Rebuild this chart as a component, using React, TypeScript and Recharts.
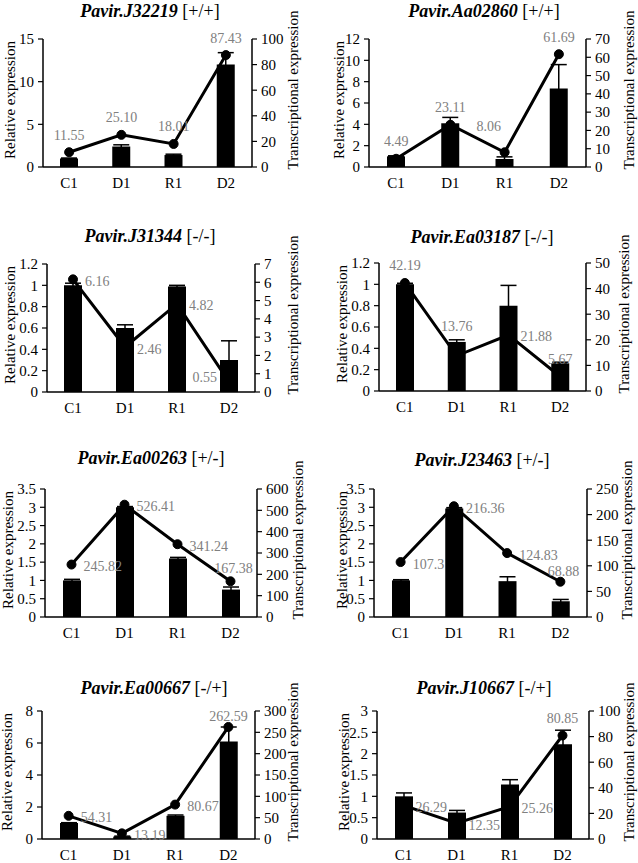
import React from 'react';
import { ComposedChart, Bar, Line, XAxis, YAxis, ErrorBar, LabelList } from 'recharts';

const FONT = '"Liberation Serif", "Times New Roman", serif';

const CATEGORIES = ['C1', 'D1', 'R1', 'D2'];

// Pavir.J32219 [+/+]
const J32219_REL = [1.0, 2.4, 1.4, 12.0];
const J32219_ERR = [0.05, 0.2, 0.1, 1.4];
const J32219_TX = [11.55, 25.1, 18.01, 87.43];
const J32219_TX_LABELS = ['11.55', '25.10', '18.01', '87.43'];
const J32219_LEFT_TICKS = [0, 5, 10, 15];
const J32219_RIGHT_TICKS = [0, 20, 40, 60, 80, 100];

// Pavir.Aa02860 [+/+]
const AA02860_REL = [1.0, 4.1, 0.75, 7.35];
const AA02860_ERR = [0.05, 0.55, 0.2, 2.25];
const AA02860_TX = [4.49, 23.11, 8.06, 61.69];
const AA02860_TX_LABELS = ['4.49', '23.11', '8.06', '61.69'];
const AA02860_LEFT_TICKS = [0, 2, 4, 6, 8, 10, 12];
const AA02860_RIGHT_TICKS = [0, 10, 20, 30, 40, 50, 60, 70];

// Pavir.J31344 [-/-]
const J31344_REL = [1.0, 0.6, 0.99, 0.3];
const J31344_ERR = [0.02, 0.03, 0.01, 0.18];
const J31344_TX = [6.16, 2.46, 4.82, 0.55];
const J31344_TX_LABELS = ['6.16', '2.46', '4.82', '0.55'];
const J31344_LEFT_TICKS = [0, 0.2, 0.4, 0.6, 0.8, 1, 1.2];
const J31344_RIGHT_TICKS = [0, 1, 2, 3, 4, 5, 6, 7];

// Pavir.Ea03187 [-/-]
const EA03187_REL = [1.0, 0.46, 0.8, 0.26];
const EA03187_ERR = [0.01, 0.02, 0.19, 0.01];
const EA03187_TX = [42.19, 13.76, 21.88, 5.67];
const EA03187_TX_LABELS = ['42.19', '13.76', '21.88', '5.67'];
const EA03187_LEFT_TICKS = [0, 0.2, 0.4, 0.6, 0.8, 1, 1.2];
const EA03187_RIGHT_TICKS = [0, 10, 20, 30, 40, 50];

// Pavir.Ea00263 [+/-]
const EA00263_REL = [1.0, 3.0, 1.6, 0.75];
const EA00263_ERR = [0.03, 0.02, 0.03, 0.07];
const EA00263_TX = [245.82, 526.41, 341.24, 167.38];
const EA00263_TX_LABELS = ['245.82', '526.41', '341.24', '167.38'];
const EA00263_LEFT_TICKS = [0, 0.5, 1, 1.5, 2, 2.5, 3, 3.5];
const EA00263_RIGHT_TICKS = [0, 100, 200, 300, 400, 500, 600];

// Pavir.J23463 [+/-]
const J23463_REL = [1.0, 2.97, 0.98, 0.43];
const J23463_ERR = [0.02, 0.02, 0.12, 0.05];
const J23463_TX = [107.3, 216.36, 124.83, 68.88];
const J23463_TX_LABELS = ['107.3', '216.36', '124.83', '68.88'];
const J23463_LEFT_TICKS = [0, 0.5, 1, 1.5, 2, 2.5, 3, 3.5];
const J23463_RIGHT_TICKS = [0, 50, 100, 150, 200, 250];

// Pavir.Ea00667 [-/+]
const EA00667_REL = [1.0, 0.15, 1.45, 6.1];
const EA00667_ERR = [0.02, 0.03, 0.05, 0.9];
const EA00667_TX = [54.31, 13.19, 80.67, 262.59];
const EA00667_TX_LABELS = ['54.31', '13.19', '80.67', '262.59'];
const EA00667_LEFT_TICKS = [0, 2, 4, 6, 8];
const EA00667_RIGHT_TICKS = [0, 50, 100, 150, 200, 250, 300];

// Pavir.J10667 [-/+]
const J10667_REL = [1.0, 0.62, 1.28, 2.22];
const J10667_ERR = [0.08, 0.05, 0.11, 0.33];
const J10667_TX = [26.29, 12.35, 25.26, 80.85];
const J10667_TX_LABELS = ['26.29', '12.35', '25.26', '80.85'];
const J10667_LEFT_TICKS = [0, 0.5, 1, 1.5, 2, 2.5, 3];
const J10667_RIGHT_TICKS = [0, 20, 40, 60, 80, 100];

type PanelDef = {
  gene: string;
  cls: string;
  rel: number[];
  err: number[];
  tx: number[];
  txLabels: string[];
  leftTicks: number[];
  rightTicks: number[];
  place: string[];
  x: number;
  plotTop: number;
  leftW: number;
  rightW: number;
  titleX: number;
  titleY: number;
  leftLabX: number;
  rightLabX: number;
};

const PLOT_H = 128;
const TOP_M = 30;
const XAXIS_H = 30;

const PANELS: PanelDef[] = [
  { gene: 'Pavir.J32219', cls: '[+/+]', rel: J32219_REL, err: J32219_ERR, tx: J32219_TX, txLabels: J32219_TX_LABELS, leftTicks: J32219_LEFT_TICKS, rightTicks: J32219_RIGHT_TICKS, place: ['top', 'top', 'top', 'top'], x: 0, plotTop: 39, leftW: 43, rightW: 67, titleX: 150, titleY: 11, leftLabX: 10, rightLabX: 293 },
  { gene: 'Pavir.Aa02860', cls: '[+/+]', rel: AA02860_REL, err: AA02860_ERR, tx: AA02860_TX, txLabels: AA02860_TX_LABELS, leftTicks: AA02860_LEFT_TICKS, rightTicks: AA02860_RIGHT_TICKS, place: ['top', 'top', 'topLeft', 'top'], x: 319, plotTop: 39, leftW: 50, rightW: 52, titleX: 165, titleY: 11, leftLabX: 20, rightLabX: 310 },
  { gene: 'Pavir.J31344', cls: '[-/-]', rel: J31344_REL, err: J31344_ERR, tx: J31344_TX, txLabels: J31344_TX_LABELS, leftTicks: J31344_LEFT_TICKS, rightTicks: J31344_RIGHT_TICKS, place: ['right', 'right', 'right', 'left'], x: 0, plotTop: 264, leftW: 47, rightW: 64, titleX: 150, titleY: 236, leftLabX: 10, rightLabX: 293 },
  { gene: 'Pavir.Ea03187', cls: '[-/-]', rel: EA03187_REL, err: EA03187_ERR, tx: EA03187_TX, txLabels: EA03187_TX_LABELS, leftTicks: EA03187_LEFT_TICKS, rightTicks: EA03187_RIGHT_TICKS, place: ['top', 'topHigh', 'right', 'top'], x: 319, plotTop: 263, leftW: 60, rightW: 52, titleX: 163, titleY: 237, leftLabX: 23, rightLabX: 305 },
  { gene: 'Pavir.Ea00263', cls: '[+/-]', rel: EA00263_REL, err: EA00263_ERR, tx: EA00263_TX, txLabels: EA00263_TX_LABELS, leftTicks: EA00263_LEFT_TICKS, rightTicks: EA00263_RIGHT_TICKS, place: ['right', 'right', 'right', 'topNear'], x: 0, plotTop: 489, leftW: 45, rightW: 62, titleX: 151, titleY: 458, leftLabX: 8, rightLabX: 298 },
  { gene: 'Pavir.J23463', cls: '[+/-]', rel: J23463_REL, err: J23463_ERR, tx: J23463_TX, txLabels: J23463_TX_LABELS, leftTicks: J23463_LEFT_TICKS, rightTicks: J23463_RIGHT_TICKS, place: ['right', 'right', 'right', 'topRight'], x: 319, plotTop: 489, leftW: 55, rightW: 51, titleX: 163, titleY: 460, leftLabX: 23, rightLabX: 308 },
  { gene: 'Pavir.Ea00667', cls: '[-/+]', rel: EA00667_REL, err: EA00667_ERR, tx: EA00667_TX, txLabels: EA00667_TX_LABELS, leftTicks: EA00667_LEFT_TICKS, rightTicks: EA00667_RIGHT_TICKS, place: ['right', 'right', 'right', 'topClose'], x: 0, plotTop: 711, leftW: 42, rightW: 64, titleX: 154, titleY: 688, leftLabX: 7, rightLabX: 293 },
  { gene: 'Pavir.J10667', cls: '[-/+]', rel: J10667_REL, err: J10667_ERR, tx: J10667_TX, txLabels: J10667_TX_LABELS, leftTicks: J10667_LEFT_TICKS, rightTicks: J10667_RIGHT_TICKS, place: ['right', 'right', 'right', 'top'], x: 319, plotTop: 711, leftW: 58, rightW: 49, titleX: 165, titleY: 688, leftLabX: 25, rightLabX: 310 },
];

function placeLabel(pos: string, x: number, y: number) {
  switch (pos) {
    case 'top':
      return { x, y: y - 17, anchor: 'middle' };
    case 'topNear':
      return { x: x + 3, y: y - 13, anchor: 'middle' };
    case 'topRight':
      return { x: x + 3, y: y - 10, anchor: 'middle' };
    case 'topHigh':
      return { x, y: y - 29, anchor: 'middle' };
    case 'topClose':
      return { x, y: y - 10, anchor: 'middle' };
    case 'topLeft':
      return { x: x - 16, y: y - 26, anchor: 'middle' };
    case 'left':
      return { x: x - 12, y: y - 4, anchor: 'end' };
    case 'right':
    default:
      return { x: x + 12, y: y + 2, anchor: 'start' };
  }
}

function Panel({ p }: { p: PanelDef }) {
  const data = CATEGORIES.map((c, i) => ({ cat: c, rel: p.rel[i], err: p.err[i], tx: p.tx[i] }));
  const tickStyle = { fontSize: 15, fill: '#000', fontFamily: FONT };
  const renderLabel = (props: any) => {
    const { x, y, value } = props;
    let idx = props.index;
    if (idx === undefined || idx === null) idx = p.tx.indexOf(value);
    const pl = placeLabel(p.place[idx] || 'top', Number(x), Number(y));
    return (
      <text
        key={`lbl-${idx}`}
        x={pl.x}
        y={pl.y}
        textAnchor={pl.anchor as any}
        dominantBaseline="central"
        fill="#808080"
        fontSize={14}
        fontFamily={FONT}
      >
        {p.txLabels[idx]}
      </text>
    );
  };
  const plotMid = p.plotTop + PLOT_H / 2;
  return (
    <>
      <div
        style={{
          position: 'absolute',
          left: p.x + p.titleX,
          top: p.titleY,
          transform: 'translate(-50%, -50%)',
          whiteSpace: 'nowrap',
          fontFamily: FONT,
          fontSize: 18,
          lineHeight: '20px',
          color: '#000',
        }}
      >
        <span style={{ fontWeight: 'bold', fontStyle: 'italic' }}>{p.gene}</span> <span>{p.cls}</span>
      </div>
      <div
        style={{
          position: 'absolute',
          left: p.x + p.leftLabX,
          top: plotMid - 3,
          transform: 'translate(-50%, -50%) rotate(-90deg)',
          whiteSpace: 'nowrap',
          fontFamily: FONT,
          fontSize: 15,
          lineHeight: '16px',
          color: '#000',
        }}
      >
        Relative expression
      </div>
      <div
        style={{
          position: 'absolute',
          left: p.x + p.rightLabX,
          top: plotMid - 13,
          transform: 'translate(-50%, -50%) rotate(-90deg)',
          whiteSpace: 'nowrap',
          fontFamily: FONT,
          fontSize: 15,
          lineHeight: '16px',
          color: '#000',
        }}
      >
        Transcriptional expression
      </div>
      <div style={{ position: 'absolute', left: p.x, top: p.plotTop - TOP_M }}>
        <ComposedChart
          width={319}
          height={TOP_M + PLOT_H + XAXIS_H}
          data={data}
          margin={{ top: TOP_M, right: 0, bottom: 0, left: 0 }}
        >
          <XAxis
            dataKey="cat"
            height={XAXIS_H}
            tickLine={false}
            axisLine={{ stroke: '#000', strokeWidth: 1.5 }}
            tick={tickStyle}
            tickSize={6}
            tickMargin={4}
            interval={0}
          />
          <YAxis
            yAxisId="l"
            orientation="left"
            width={p.leftW}
            domain={[p.leftTicks[0], p.leftTicks[p.leftTicks.length - 1]]}
            ticks={p.leftTicks}
            interval={0}
            allowDataOverflow
            tick={tickStyle}
            tickSize={5}
            tickMargin={4}
            tickLine={{ stroke: '#000', strokeWidth: 1.2 }}
            axisLine={{ stroke: '#000', strokeWidth: 1.5 }}
          />
          <YAxis
            yAxisId="r"
            orientation="right"
            width={p.rightW}
            domain={[p.rightTicks[0], p.rightTicks[p.rightTicks.length - 1]]}
            ticks={p.rightTicks}
            interval={0}
            allowDataOverflow
            tick={tickStyle}
            tickSize={5}
            tickMargin={4}
            tickLine={{ stroke: '#000', strokeWidth: 1.2 }}
            axisLine={{ stroke: '#000', strokeWidth: 1.5 }}
          />
          <Bar yAxisId="l" dataKey="rel" fill="#000" barSize={18} isAnimationActive={false}>
            <ErrorBar dataKey="err" width={8} stroke="#000" strokeWidth={1.5} direction="y" isAnimationActive={false} />
          </Bar>
          <Line
            yAxisId="r"
            type="linear"
            dataKey="tx"
            stroke="#000"
            strokeWidth={3}
            dot={{ r: 4.5, fill: '#000', stroke: '#000', strokeWidth: 1 }}
            activeDot={false}
            isAnimationActive={false}
          >
            <LabelList dataKey="tx" content={renderLabel} />
          </Line>
        </ComposedChart>
      </div>
    </>
  );
}

export default function App() {
  return (
    <div
      style={{
        position: 'absolute',
        left: 0,
        top: 0,
        width: 638,
        height: 863,
        overflow: 'hidden',
        background: '#fff',
      }}
    >
      {PANELS.map((p) => (
        <Panel key={p.gene} p={p} />
      ))}
    </div>
  );
}
